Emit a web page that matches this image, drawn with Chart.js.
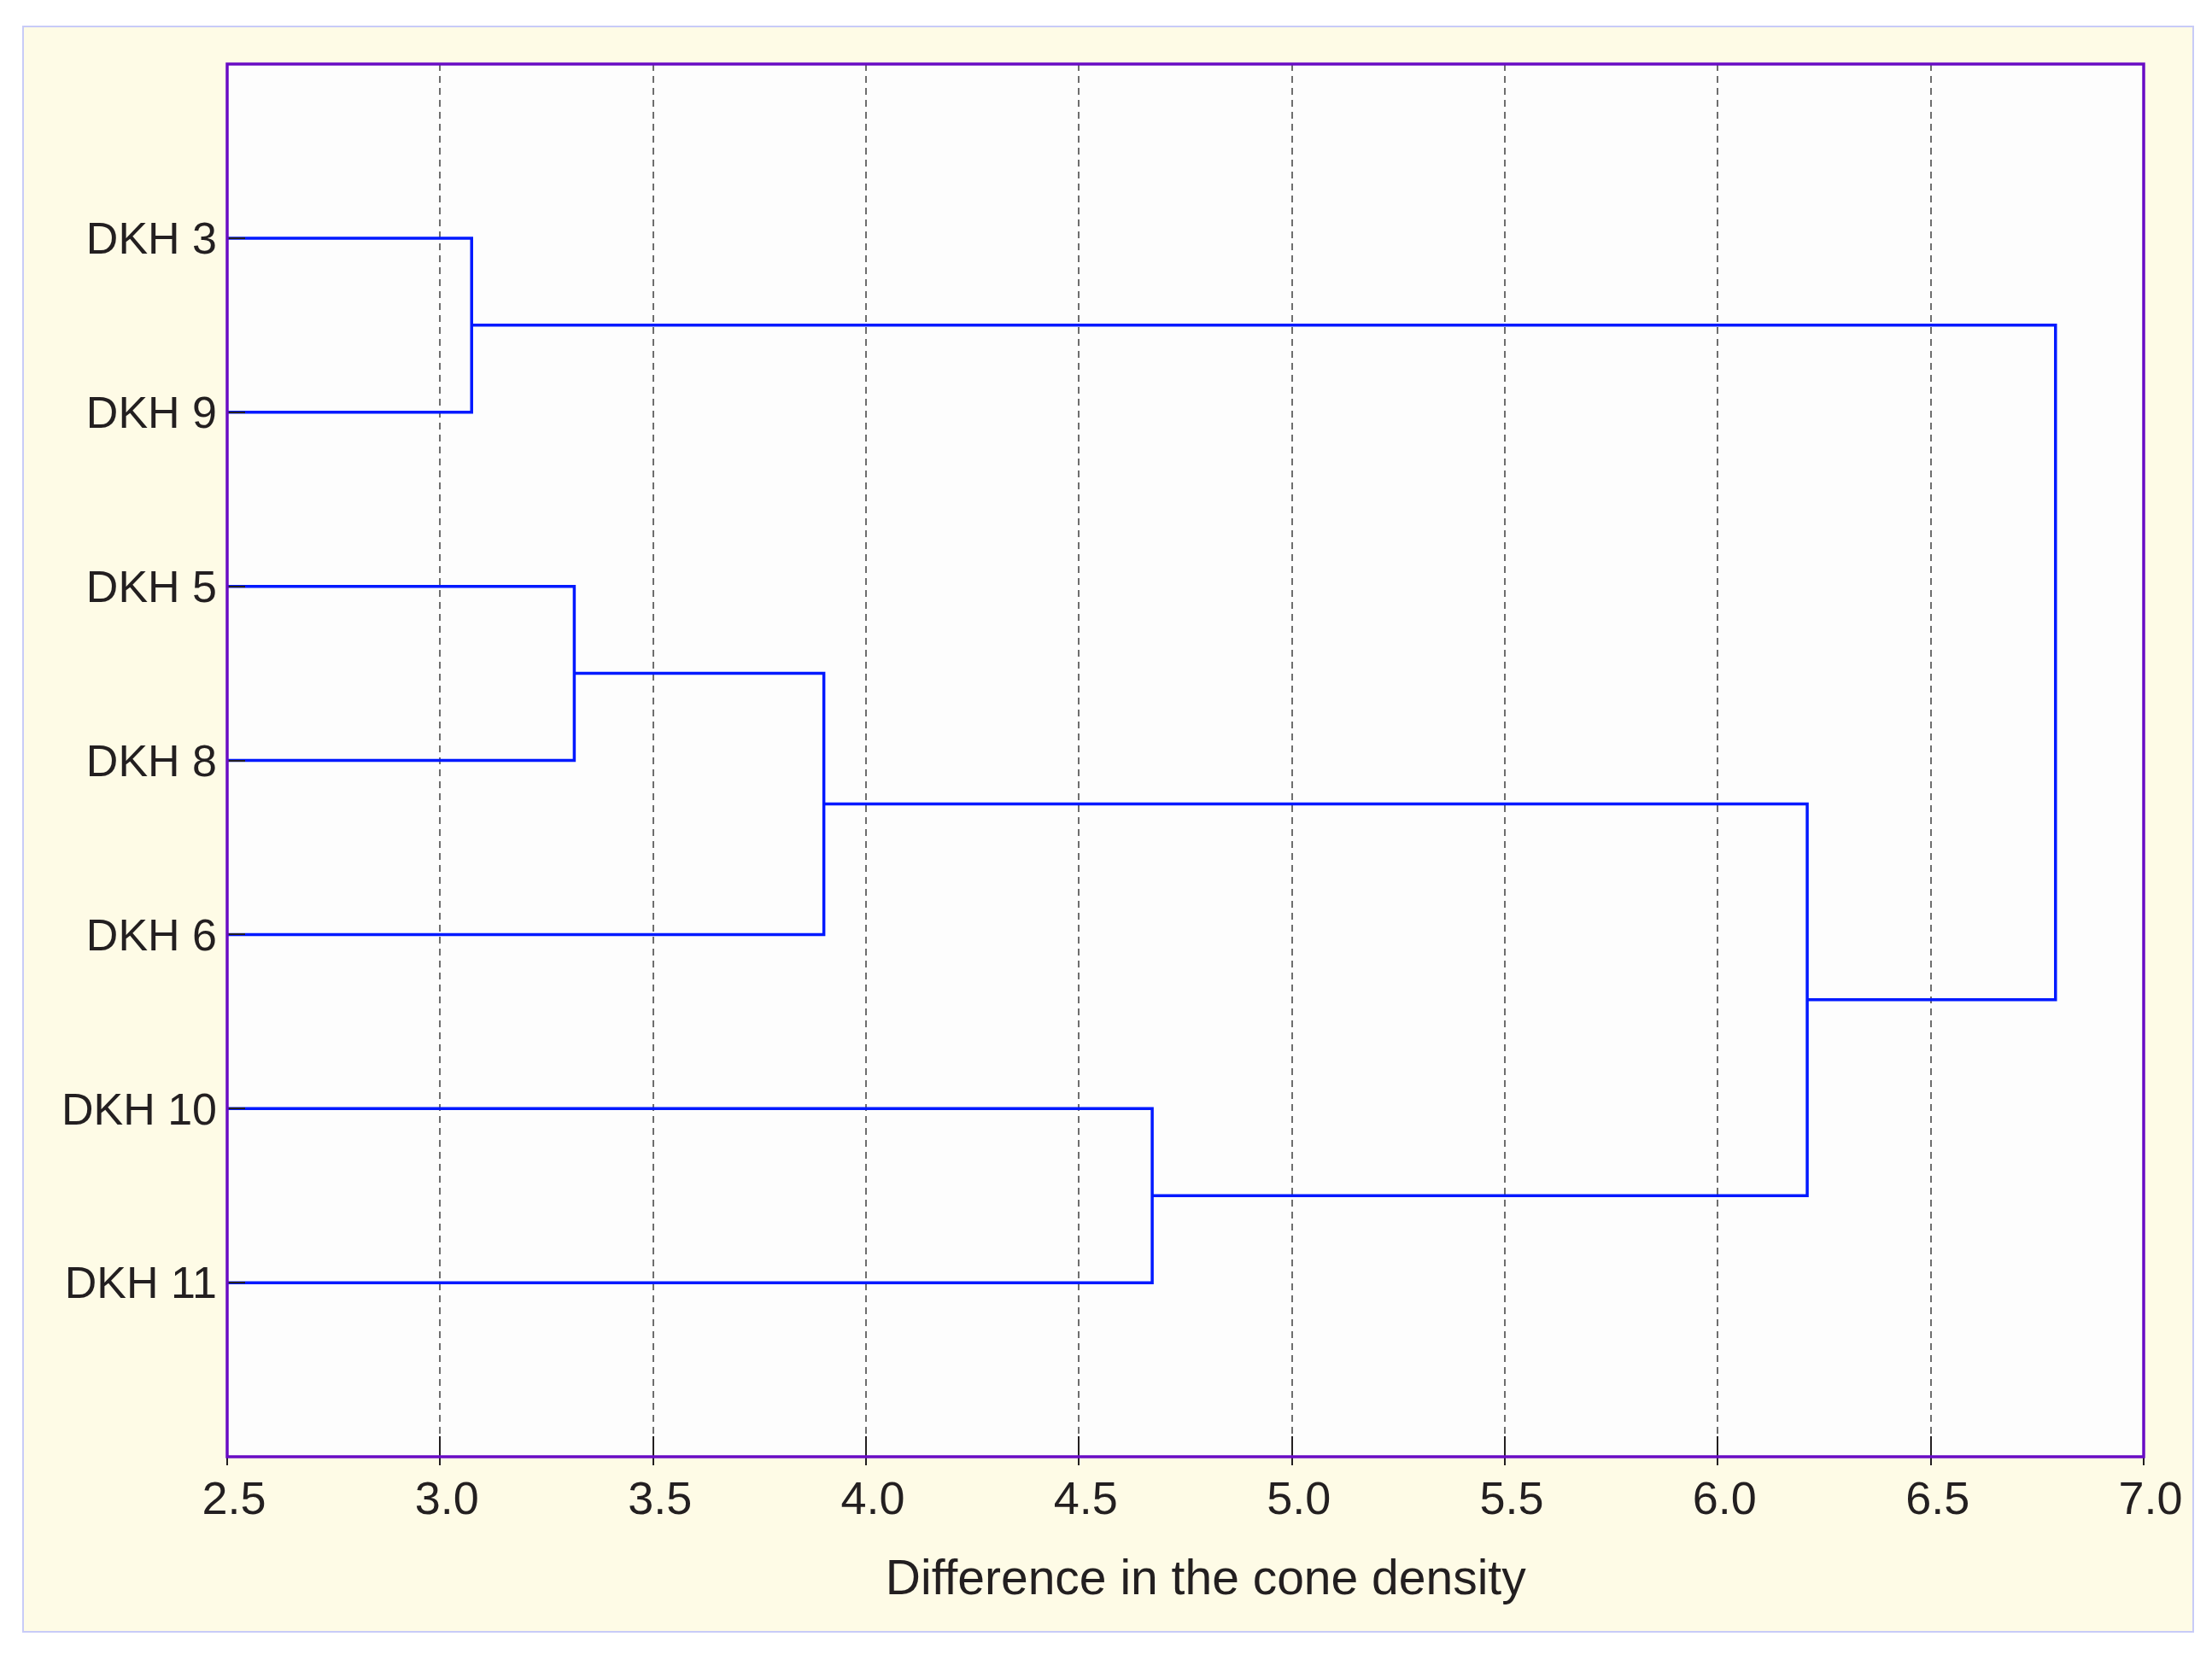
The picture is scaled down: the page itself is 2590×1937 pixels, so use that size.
<!DOCTYPE html>
<html>
<head>
<meta charset="utf-8">
<script src="https://cdn.jsdelivr.net/npm/chart.js@4.4.1/dist/chart.umd.min.js"></script>
<style>
  html, body { margin: 0; padding: 0; background: #ffffff; }
  #wrap { width: 2590px; height: 1937px; position: relative; }
</style>
</head>
<body>
<div id="wrap"><canvas id="c"></canvas></div>
<script>
// ---- data ----
const leafLabels  = ['DKH 3', 'DKH 9', 'DKH 5', 'DKH 8', 'DKH 6', 'DKH 10', 'DKH 11'];
// merges: cluster ids 0..6 are leaves, 7.. are merges in order
const mergeLeft   = [0, 2, 8, 5, 9, 7];
const mergeRight  = [1, 3, 4, 6, 10, 11];
const mergeHeight = [3.074, 3.315, 3.901, 4.672, 6.210, 6.793];
const xTickValues = [2.5, 3.0, 3.5, 4.0, 4.5, 5.0, 5.5, 6.0, 6.5, 7.0];
const xTitle = 'Difference in the cone density';

const X_MIN = xTickValues[0], X_MAX = xTickValues[xTickValues.length - 1];

// build dendrogram segments
const nodes = leafLabels.map((_, i) => ({ x: X_MIN, y: i + 1 }));
const datasets = [];
for (let k = 0; k < mergeHeight.length; k++) {
  const a = nodes[mergeLeft[k]], b = nodes[mergeRight[k]], h = mergeHeight[k];
  datasets.push({
    data: [{ x: a.x, y: a.y }, { x: h, y: a.y }, { x: h, y: b.y }, { x: b.x, y: b.y }],
    showLine: true,
    borderColor: '#0019ff',
    borderWidth: 3.5,
    pointRadius: 0,
    pointHoverRadius: 0,
    borderJoinStyle: 'miter',
    borderCapStyle: 'butt',
    tension: 0,
    clip: false
  });
  nodes.push({ x: h, y: (a.y + b.y) / 2 });
}

const FONT = "'Liberation Sans', Arial, Helvetica, sans-serif";
const TEXT = '#231f20';

const framePlugin = {
  id: 'frame',
  beforeDraw(chart) {
    const { ctx, chartArea: ca } = chart;
    ctx.save();
    ctx.fillStyle = '#ffffff';
    ctx.fillRect(0, 0, chart.width, chart.height);
    ctx.fillStyle = '#fefbe6';
    ctx.fillRect(27, 31, 2541, 1880);
    ctx.strokeStyle = '#c8cbf7';
    ctx.lineWidth = 2;
    ctx.strokeRect(27, 31, 2541, 1880);
    ctx.fillStyle = '#fdfdfd';
    ctx.fillRect(ca.left, ca.top, ca.right - ca.left, ca.bottom - ca.top);
    ctx.restore();
  },
  afterDraw(chart) {
    const { ctx, chartArea: ca } = chart;
    const xs = chart.scales.x, ys = chart.scales.y;
    ctx.save();
    ctx.strokeStyle = TEXT;
    ctx.lineWidth = 2;
    ctx.beginPath();
    xs.ticks.forEach(t => {
      const px = Math.round(xs.getPixelForValue(t.value));
      ctx.moveTo(px, ca.bottom - 24);
      ctx.lineTo(px, ca.bottom + 10);
    });
    leafLabels.forEach((_, i) => {
      const py = Math.round(ys.getPixelForValue(i + 1));
      ctx.moveTo(ca.left, py);
      ctx.lineTo(ca.left + 21, py);
    });
    ctx.stroke();
    ctx.strokeStyle = '#690cc4';
    ctx.lineWidth = 3.5;
    ctx.strokeRect(ca.left, ca.top, ca.right - ca.left, ca.bottom - ca.top);
    ctx.restore();
  }
};

new Chart(document.getElementById('c'), {
  type: 'scatter',
  data: { datasets },
  options: {
    responsive: true,
    maintainAspectRatio: false,
    animation: false,
    devicePixelRatio: 1,
    layout: { padding: { left: 0, top: 75, right: 80, bottom: 0 } },
    plugins: { legend: { display: false }, tooltip: { enabled: false }, title: { display: false } },
    scales: {
      x: {
        type: 'linear',
        min: X_MIN, max: X_MAX,
        afterBuildTicks(scale) { scale.ticks = xTickValues.map(v => ({ value: v })); },
        afterFit(scale) { scale.height = 1937 - 1706; },
        ticks: {
          callback: v => Number(v).toFixed(1),
          font: { family: FONT, size: 54 },
          color: TEXT,
          padding: 20,
          labelOffset: 8,
          maxRotation: 0,
          autoSkip: false
        },
        grid: { color: '#6e6e6e', lineWidth: 2, drawTicks: false, drawOnChartArea: true },
        border: { display: false, dash: [8, 6] },
        title: {
          display: true,
          text: '\u00a0\u00a0\u00a0' + xTitle,
          font: { family: FONT, size: 57 },
          color: TEXT,
          padding: { top: 0, bottom: 52 }
        }
      },
      y: {
        type: 'linear',
        reverse: true,
        min: 0, max: leafLabels.length + 1,
        afterBuildTicks(scale) { scale.ticks = leafLabels.map((_, i) => ({ value: i + 1 })); },
        afterFit(scale) { scale.width = 266; },
        ticks: {
          callback: v => leafLabels[v - 1] ?? '',
          font: { family: FONT, size: 52 },
          color: TEXT,
          padding: 12,
          labelOffset: 4,
          autoSkip: false
        },
        grid: { display: false, drawTicks: false },
        border: { display: false }
      }
    }
  },
  plugins: [framePlugin]
});
</script>
</body>
</html>
